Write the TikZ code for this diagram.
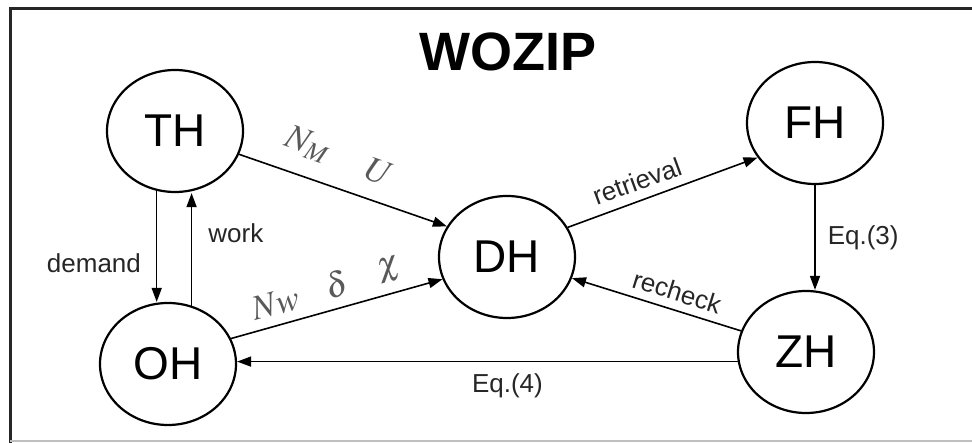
\documentclass[tikz,border=0pt]{standalone}
\usepackage{mathptmx}
\usepackage{fontspec}
\setmainfont{Liberation Sans}
\usetikzlibrary{arrows.meta,shapes.geometric}

\tikzset{
  place/.style={draw, ellipse, line width=2.2pt, minimum width=136pt, minimum height=122pt,
    inner sep=0pt, font=\fontsize{46}{46}\selectfont},
  flow/.style={line width=1.6pt, -{Triangle[length=14pt,width=10pt]}},
  tag/.style={inner sep=0pt, font=\fontsize{26}{26}\selectfont, text=black!85},
  sym/.style={inner sep=0pt, font=\fontsize{35}{35}\selectfont, text=black!65},
}

\begin{document}
\begin{tikzpicture}[x=1pt, y=-1pt]
  \useasboundingbox (0,0) rectangle (972,443);
  % frame
  \draw[line width=3pt, black!85] (972,9) -- (10,9) -- (10,443);
  \draw[line width=1.2pt, black!25] (10,441) -- (972,441);

  \node[font=\fontsize{54}{54}\selectfont\bfseries] (title) at (508,52) {WOZIP};

  \node[place] (TH) at (175,131) {TH};
  \node[place] (FH) at (815,123) {FH};
  \node[place] (DH) at (507,257) {DH};
  \node[place] (OH) at (168,364) {OH};
  \node[place] (ZH) at (806,352) {ZH};

  \path[flow] (TH.-20) edge node[sym, sloped, above=17pt, pos=.28] {$N_M$}
                            node[sym, sloped, above=17pt, pos=.63] {$U$} (DH.153);
  \path[flow] (OH.22.6) edge node[sym, sloped, above=9pt, pos=.24] {$Nw$}
                             node[sym, sloped, above=10pt, pos=.53] {$\delta$}
                             node[sym, sloped, above=9pt, pos=.78] {$\chi$} (DH.-161.8);
  \path[flow] (TH.-107) edge node[tag, left=15pt, pos=.65] {demand} (TH.-107 |- OH.north);
  \path[flow] (OH.68.5) edge node[tag, right=16pt, pos=.64] {work} (OH.68.5 |- TH.south);
  \path[flow] (DH.26.6) edge node[tag, sloped, above=9pt, pos=.4] {retrieval} (FH.-149.6);
  \path[flow] (FH.south) edge node[tag, right=12pt, pos=.5] {Eq.(3)} (FH.south |- ZH.north);
  \path[flow] (ZH.162.9) edge node[tag, sloped, above=8pt, pos=.41] {recheck} (DH.-18.4);
  \path[flow] (ZH.188.5) edge node[tag, below=11pt, pos=.46] {Eq.(4)} (ZH.188.5 -| OH.east);
\end{tikzpicture}
\end{document}
